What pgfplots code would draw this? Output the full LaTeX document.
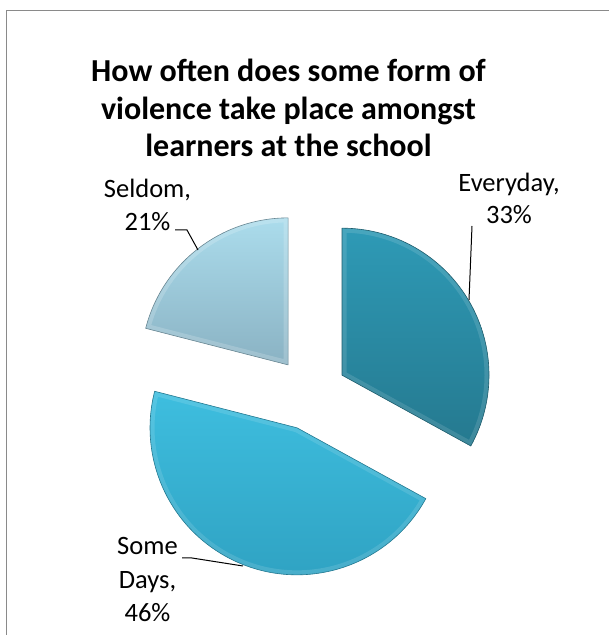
\documentclass[border=0pt]{standalone}
\usepackage{fontspec}
\setmainfont{Carlito}
\usepackage{pgfplots}
\usepackage{pgfplotstable}
\pgfplotsset{compat=1.18}

\definecolor{evtop}{HTML}{2E9AB6}
\definecolor{evbot}{HTML}{25798F}
\definecolor{sdtop}{HTML}{3EBEDF}
\definecolor{sdbot}{HTML}{2EA0C0}
\definecolor{sltop}{HTML}{ABDCEC}
\definecolor{slbot}{HTML}{8AB2C3}
\definecolor{framegray}{HTML}{8A8A8A}

\pgfplotstableread{
label value
Everyday 33
SomeDays 46
Seldom 21
}\piedata

\begin{document}
\begin{tikzpicture}
% pie geometry (pixels, y up)
\def\cx{310.5}
\def\cy{241.2}
\def\R{147}
\def\ex{36.6}
\pgfplotstablegetelem{0}{value}\of\piedata \let\vA\pgfplotsretval
\pgfplotstablegetelem{1}{value}\of\piedata \let\vB\pgfplotsretval
\pgfplotstablegetelem{2}{value}\of\piedata \let\vC\pgfplotsretval
\pgfmathsetmacro\sA{90}
\pgfmathsetmacro\eA{\sA-3.6*\vA}
\pgfmathsetmacro\sB{\eA}
\pgfmathsetmacro\eB{\sB-3.6*\vB}
\pgfmathsetmacro\sC{\eB}
\pgfmathsetmacro\eC{\sC-3.6*\vC}
% apexes
\pgfmathsetmacro\axA{\cx+\ex*cos((\sA+\eA)/2)}
\pgfmathsetmacro\ayA{\cy+\ex*sin((\sA+\eA)/2)}
\pgfmathsetmacro\axB{\cx+\ex*cos((\sB+\eB)/2)}
\pgfmathsetmacro\ayB{\cy+\ex*sin((\sB+\eB)/2)}
\pgfmathsetmacro\axC{\cx+\ex*cos((\sC+\eC)/2)}
\pgfmathsetmacro\ayC{\cy+\ex*sin((\sC+\eC)/2)}
% start points on rim
\pgfmathsetmacro\pxA{\axA+\R*cos(\sA)}
\pgfmathsetmacro\pyA{\ayA+\R*sin(\sA)}
\pgfmathsetmacro\pxB{\axB+\R*cos(\sB)}
\pgfmathsetmacro\pyB{\ayB+\R*sin(\sB)}
\pgfmathsetmacro\pxC{\axC+\R*cos(\sC)}
\pgfmathsetmacro\pyC{\ayC+\R*sin(\sC)}

\begin{axis}[
  at={(0,0)}, anchor=south west,
  width=609pt, height=635pt, scale only axis,
  xmin=0, xmax=609, ymin=0, ymax=635,
  hide axis, clip=false,
]
% frame
\draw[framegray, line width=1.6pt] (axis cs:6.5,0) -- (axis cs:6.5,624.5) -- (axis cs:609,624.5);

% Everyday
\shade[top color=evtop, bottom color=evbot]
  (axis cs:\axA,\ayA) -- (axis cs:\pxA,\pyA) arc[start angle=\sA, end angle=\eA, radius=\R] -- cycle;
\begin{scope}
\clip (axis cs:\axA,\ayA) -- (axis cs:\pxA,\pyA) arc[start angle=\sA, end angle=\eA, radius=\R] -- cycle;
\draw[white, opacity=0.12, line width=9pt, line join=round]
  (axis cs:\axA,\ayA) -- (axis cs:\pxA,\pyA) arc[start angle=\sA, end angle=\eA, radius=\R] -- cycle;
\end{scope}
\draw[evbot!75!black, line width=0.6pt, line join=round]
  (axis cs:\axA,\ayA) -- (axis cs:\pxA,\pyA) arc[start angle=\sA, end angle=\eA, radius=\R] -- cycle;

% Some Days
\shade[top color=sdtop, bottom color=sdbot]
  (axis cs:\axB,\ayB) -- (axis cs:\pxB,\pyB) arc[start angle=\sB, end angle=\eB, radius=\R] -- cycle;
\begin{scope}
\clip (axis cs:\axB,\ayB) -- (axis cs:\pxB,\pyB) arc[start angle=\sB, end angle=\eB, radius=\R] -- cycle;
\draw[white, opacity=0.12, line width=9pt, line join=round]
  (axis cs:\axB,\ayB) -- (axis cs:\pxB,\pyB) arc[start angle=\sB, end angle=\eB, radius=\R] -- cycle;
\end{scope}
\draw[sdbot!75!black, line width=0.6pt, line join=round]
  (axis cs:\axB,\ayB) -- (axis cs:\pxB,\pyB) arc[start angle=\sB, end angle=\eB, radius=\R] -- cycle;

% Seldom
\shade[top color=sltop, bottom color=slbot]
  (axis cs:\axC,\ayC) -- (axis cs:\pxC,\pyC) arc[start angle=\sC, end angle=\eC, radius=\R] -- cycle;
\begin{scope}
\clip (axis cs:\axC,\ayC) -- (axis cs:\pxC,\pyC) arc[start angle=\sC, end angle=\eC, radius=\R] -- cycle;
\draw[white, opacity=0.18, line width=9pt, line join=round]
  (axis cs:\axC,\ayC) -- (axis cs:\pxC,\pyC) arc[start angle=\sC, end angle=\eC, radius=\R] -- cycle;
\end{scope}
\draw[slbot!75!black, line width=0.6pt, line join=round]
  (axis cs:\axC,\ayC) -- (axis cs:\pxC,\pyC) arc[start angle=\sC, end angle=\eC, radius=\R] -- cycle;

% leader lines
\draw[black, line width=1pt] (axis cs:472,409) -- (axis cs:469,335);
\draw[black, line width=1pt] (axis cs:175,405) -- (axis cs:187,405) -- (axis cs:198,385);
\draw[black, line width=1pt] (axis cs:182,77) -- (axis cs:192,77) -- (axis cs:243,69);

% title
\begin{scope}[every node/.style={font=\fontsize{32}{38}\selectfont\bfseries, anchor=base, inner sep=0pt}]
\node at (axis cs:288.5,553) {How often does some form of};
\node at (axis cs:288.5,515.5) {violence take place amongst};
\node at (axis cs:288.5,478) {learners at the school};
\end{scope}

% labels
\begin{scope}[every node/.style={font=\fontsize{26.5}{31}\selectfont, anchor=base, inner sep=0pt}]
\node at (axis cs:509,443) {Everyday,};
\node at (axis cs:509,411.5) {33\%};
\node at (axis cs:147.5,437) {Seldom,};
\node at (axis cs:147.5,404) {21\%};
\node at (axis cs:147.5,80) {Some};
\node at (axis cs:147.5,46) {Days,};
\node at (axis cs:147.5,13.5) {46\%};
\end{scope}
\end{axis}
\pgfresetboundingbox
\path (0,0) rectangle (609pt,635pt);
\end{tikzpicture}
\end{document}
